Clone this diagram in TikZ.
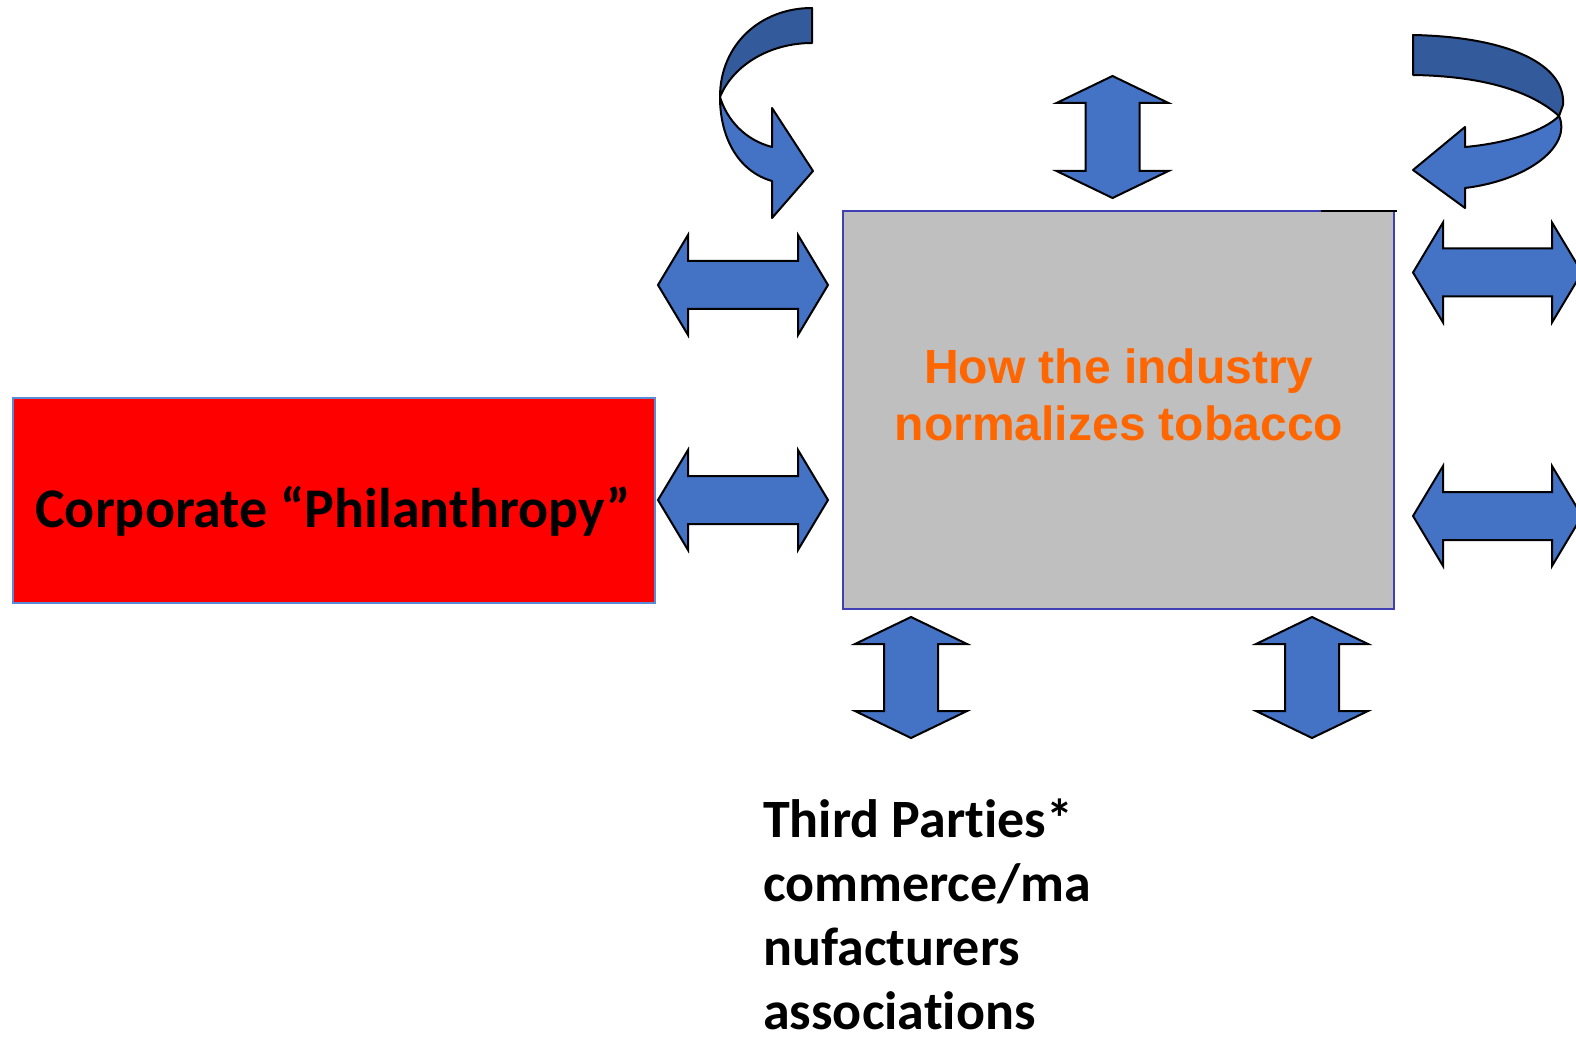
\documentclass[tikz,border=0pt]{standalone}
\usepackage{fontspec}
\newfontfamily\calibri[Ligatures=NoCommon]{Carlito}
\newfontfamily\arialf{Liberation Sans}
\definecolor{arrowblue}{HTML}{4472C4}
\definecolor{arrowdark}{HTML}{335A9B}
\definecolor{boxgray}{HTML}{BFBFBF}
\definecolor{grayborder}{HTML}{4040B4}
\definecolor{redborder}{HTML}{5B8BD6}
\definecolor{orangetext}{HTML}{FF6600}
\tikzset{
  blockarrow/.style={fill=arrowblue, draw=black, line width=2pt, line join=miter},
  blockdark/.style={fill=arrowdark, draw=black, line width=2pt, line join=round},
  redbox/.style={fill=red, draw=redborder, line width=1.5pt},
  graybox/.style={fill=boxgray, draw=grayborder, line width=1.5pt},
  blacktext/.style={font=\calibri\bfseries\fontsize{54}{64}\selectfont, text=black, inner sep=0pt},
  orangelbl/.style={font=\arialf\bfseries\fontsize{48}{52}\selectfont, text=orangetext, inner sep=0pt},
}
% horizontal double arrow: centre x, centre y, half length
\newcommand{\hdarr}[3]{%
  \draw[blockarrow, shift={(#1,#2)}] (-#3,0) -- (-#3+30,-50) -- (-#3+30,-24) -- (#3-30,-24)
    -- (#3-30,-50) -- (#3,0) -- (#3-30,50) -- (#3-30,24) -- (-#3+30,24) -- (-#3+30,50) -- cycle;}
% vertical double arrow: centre x, centre y, half length
\newcommand{\vdarr}[3]{%
  \draw[blockarrow, shift={(#1,#2)}] (0,-#3) -- (56,-#3+27) -- (27,-#3+27) -- (27,#3-27)
    -- (56,#3-27) -- (0,#3) -- (-56,#3-27) -- (-27,#3-27) -- (-27,-#3+27) -- (-56,-#3+27) -- cycle;}
\begin{document}
\begin{tikzpicture}[x=1pt,y=-1pt]
\useasboundingbox (0,0) rectangle (1576,1040);
\clip (0,0) rectangle (1576,1040);

% boxes
\draw[redbox] (13,398) rectangle (655,603);
\node[blacktext, font=\calibri\bfseries\fontsize{56}{64}\selectfont, anchor=base] (corp) at (333,527) {Corporate “Philanthropy”};

\draw[graybox] (843,211) rectangle (1394,609);
\draw[black, line width=2pt] (1321,211) -- (1397,211);
\node[orangelbl, anchor=base] (how1) at (1119,383) {How the industry};
\node[orangelbl, anchor=base] (how2) at (1119,440) {normalizes tobacco};

% horizontal double arrows
\hdarr{743}{285}{85}
\hdarr{743}{500}{85}
\hdarr{1497.5}{272.5}{84.5}
\hdarr{1497.5}{516}{84.5}

% vertical double arrows
\vdarr{1112.5}{137}{61}
\vdarr{911}{677.5}{60.5}
\vdarr{1312}{677.5}{60.5}

% curved arrow, top left
\draw[blockdark] (812,8) .. controls (760,8) and (720,45) .. (720,97)
  .. controls (733,65) and (770,43) .. (812,43) -- cycle;
\draw[blockarrow, line join=round] (720,97) .. controls (720,140) and (740,172) .. (772,181)
  -- (772,218) -- (813,171) -- (772,108) -- (772,147)
  .. controls (745,140) and (727,120) .. (720,97) -- cycle;

% curved arrow, top right
\draw[blockdark] (1413,35) .. controls (1510,37) and (1566,65) .. (1563,105) -- (1559,116)
  .. controls (1530,90) and (1480,76) .. (1413,75) -- cycle;
\draw[blockarrow, line join=round] (1559,116) .. controls (1572,145) and (1530,180) .. (1465,188)
  -- (1465,208) -- (1413,170) -- (1465,127) -- (1465,147)
  .. controls (1510,143) and (1545,130) .. (1559,116) -- cycle;

% third parties text
\node[blacktext, anchor=base west, align=left] (third) at (763,1029)
  {Third Parties*\\commerce/ma\\nufacturers\\associations};
\end{tikzpicture}
\end{document}
